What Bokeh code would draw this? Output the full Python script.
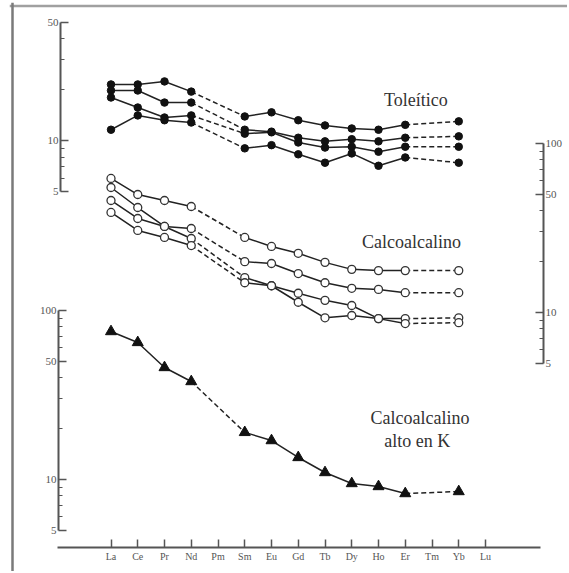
import numpy as np
from bokeh.plotting import figure
from bokeh.models import Range1d, LogScale, LogAxis, LinearAxis, FixedTicker, BasicTickFormatter, Span
from bokeh.core.properties import value
from bokeh.embed import file_html
from bokeh.resources import INLINE

nan = float("nan")
elements = ["La", "Ce", "Pr", "Nd", "Pm", "Sm", "Eu", "Gd", "Tb", "Dy", "Ho", "Er", "Tm", "Yb", "Lu"]

# Toleítico (left-top axis)
tol_a = [21.5, 21.5, 22.4, 19.5, nan, 13.9, 14.7, 13.2, 12.3, 11.8, 11.6, 12.4, nan, 13.0, nan]
tol_b = [19.8, 19.8, 16.8, 16.8, nan, 11.6, 11.3, 10.4, 9.9, 10.2, 9.9, 10.4, nan, 10.6, nan]
tol_c = [18.0, 15.7, 13.7, 14.1, nan, 11.0, 11.2, 9.75, 9.1, 9.2, 8.6, 9.2, nan, 9.2, nan]
tol_d = [11.6, 14.1, 13.2, 12.8, nan, 9.0, 9.4, 8.3, 7.4, 8.4, 7.1, 7.95, nan, 7.4, nan]

# Calcoalcalino (right axis)
cal_a = [62.1, 49.9, 46.0, 42.4, nan, 27.8, 24.6, 22.4, 19.8, 18.0, 17.7, 17.7, nan, 17.7, nan]
cal_b = [54.9, 41.8, 32.3, 31.4, nan, 20.0, 19.5, 17.0, 15.0, 13.9, 13.7, 13.1, nan, 13.1, nan]
cal_c = [46.0, 36.0, 32.3, 27.4, nan, 16.1, 14.4, 13.0, 11.8, 11.0, 9.2, 9.2, nan, 9.3, nan]
cal_d = [39.1, 30.6, 27.8, 24.9, nan, 15.0, 14.4, 11.5, 9.3, 9.6, 9.2, 8.6, nan, 8.7, nan]

# Calcoalcalino alto en K (left-bottom axis)
hk = [75.1, 64.7, 46.0, 38.0, nan, 19.0, 17.0, 13.5, 11.0, 9.47, 9.09, 8.26, nan, 8.49, nan]

tol_ticks, tol_minor = [5, 10, 50], [6, 7, 8, 9, 20, 30, 40]
big_ticks, big_minor = [5, 10, 50, 100], [6, 7, 8, 9, 20, 30, 40, 60, 70, 80, 90]

# ---- layout (page pixels; the figure sits at the page origin) ----
W, H = 567, 571
MB_L, MB_R, MB_T, MB_B = 9, 0, 2, 0
FR_TOP, FR_BOT = MB_T, H - MB_B
FR_LEFT, FR_RIGHT = MB_L, W - MB_R
PX_DEC = 169.0
X0_PX, DX_PX = 110.5, 26.75


def log_range(v0, y0):
    return Range1d(start=v0 * 10 ** (-(FR_BOT - y0) / PX_DEC), end=v0 * 10 ** ((y0 - FR_TOP) / PX_DEC))


def xi(px):
    return (px - X0_PX) / DX_PX


x_range = Range1d(xi(FR_LEFT), xi(FR_RIGHT))
hk_range = log_range(100, 310)
tol_range = log_range(50, 22)
cal_range = log_range(10, 312)

p = figure(width=W, height=H, x_range=x_range, y_range=hk_range, y_axis_type="log",
           x_axis_location=None, y_axis_location=None, output_backend="svg",
           toolbar_location=None, min_border_left=MB_L, min_border_right=MB_R,
           min_border_top=MB_T, min_border_bottom=MB_B)
p.extra_y_ranges = {"tol": tol_range, "cal": cal_range}
p.extra_y_scales = {"tol": LogScale(), "cal": LogScale()}
p.grid.visible = False
p.outline_line_color = None
p.background_fill_color = "white"

# scanned-page border: only the top and left edges are visible
p.add_layout(Span(location=100 * 10 ** ((310 - 5.5) / PX_DEC), dimension="width",
                  line_color="#a0a0a0", line_width=2.5))
p.add_layout(Span(location=xi(12), dimension="height", line_color="#7a7a7a", line_width=2.5))

AX = "#555555"
FONT = "Liberation Serif"


def style_axis(ax, fs="11px"):
    ax.axis_line_color = AX
    ax.axis_line_width = 2
    ax.major_tick_line_color = AX
    ax.major_tick_line_width = 1.5
    ax.minor_tick_line_color = AX
    ax.minor_tick_line_width = 1.2
    ax.major_tick_out = 0
    ax.minor_tick_out = 0
    ax.major_label_text_font = FONT
    ax.major_label_text_font_size = fs
    ax.major_label_text_color = "#555555"
    ax.major_label_standoff = 2


def ylog_axis(name, ticks, minor, bounds, loc_px):
    ax = LogAxis(y_range_name=name, ticker=FixedTicker(ticks=ticks, minor_ticks=minor),
                 formatter=BasicTickFormatter(), bounds=bounds, fixed_location=xi(loc_px))
    style_axis(ax)
    ax.major_tick_in = 8
    ax.minor_tick_in = 4
    return ax


p.add_layout(ylog_axis("tol", tol_ticks, tol_minor, (5, 50), 60), "left")
p.add_layout(ylog_axis("default", big_ticks, big_minor, (5, 100), 58), "left")
p.add_layout(ylog_axis("cal", big_ticks, big_minor, (5, 100), 543), "right")

x_axis_val = 100 * 10 ** (-(547 - 310) / PX_DEC)
xax = LinearAxis(ticker=FixedTicker(ticks=list(range(len(elements)))),
                 major_label_overrides={i: e for i, e in enumerate(elements)},
                 bounds=(xi(57), xi(540)), fixed_location=x_axis_val)
style_axis(xax, "10px")
xax.major_tick_in = 8
xax.minor_tick_in = 0
xax.major_label_standoff = 3
p.add_layout(xax, "below")

LINE = "#222222"


def draw_series(vals, rname):
    idx = [i for i, v in enumerate(vals) if not np.isnan(v)]
    runs, cur = [], [idx[0]]
    dxs, dys = [], []
    for a, b in zip(idx[:-1], idx[1:]):
        if b - a == 1:
            cur.append(b)
        else:
            runs.append(cur)
            cur = [b]
            dxs.append([a, b])
            dys.append([vals[a], vals[b]])
    runs.append(cur)
    p.multi_line(xs=[r for r in runs], ys=[[vals[i] for i in r] for r in runs],
                 line_color=LINE, line_width=1.5, y_range_name=rname)
    p.multi_line(xs=dxs, ys=dys, line_color=LINE, line_width=1.5, line_dash="5 3",
                 y_range_name=rname)


def draw_markers(vals, rname, kind):
    xs = [i for i, v in enumerate(vals) if not np.isnan(v)]
    ys = [vals[i] for i in xs]
    if kind == "filled":
        p.scatter(xs, ys, marker="circle", size=7.5, fill_color="#111111", line_color="#111111",
                  y_range_name=rname)
    elif kind == "open":
        p.scatter(xs, ys, marker="circle", size=8, fill_color="white", line_color="#333333",
                  line_width=1.3, y_range_name=rname)
    else:
        p.scatter(xs, ys, marker="triangle", size=11, fill_color="#111111", line_color="#111111",
                  y_range_name=rname)


groups = [([tol_a, tol_b, tol_c, tol_d], "tol", "filled"),
          ([cal_a, cal_b, cal_c, cal_d], "cal", "open"),
          ([hk], "default", "tri")]
for series, rname, kind in groups:
    for s in series:
        draw_series(s, rname)
for series, rname, kind in groups:
    for s in series:
        draw_markers(s, rname, kind)

TXT = dict(text_font=value(FONT), text_font_size="18px", text_color="#333333",
           text_align="center", text_baseline="middle")
p.text(x=[11.4], y=[17.3], text=["Toleítico"], y_range_name="tol", **TXT)
p.text(x=[11.23], y=[26.3], text=["Calcoalcalino"], y_range_name="cal", **TXT)
p.text(x=[11.55, 11.45], y=[23.0, 16.8], text=["Calcoalcalino", "alto en K"], **TXT)

open("out.html", "w").write(file_html(p, INLINE))
